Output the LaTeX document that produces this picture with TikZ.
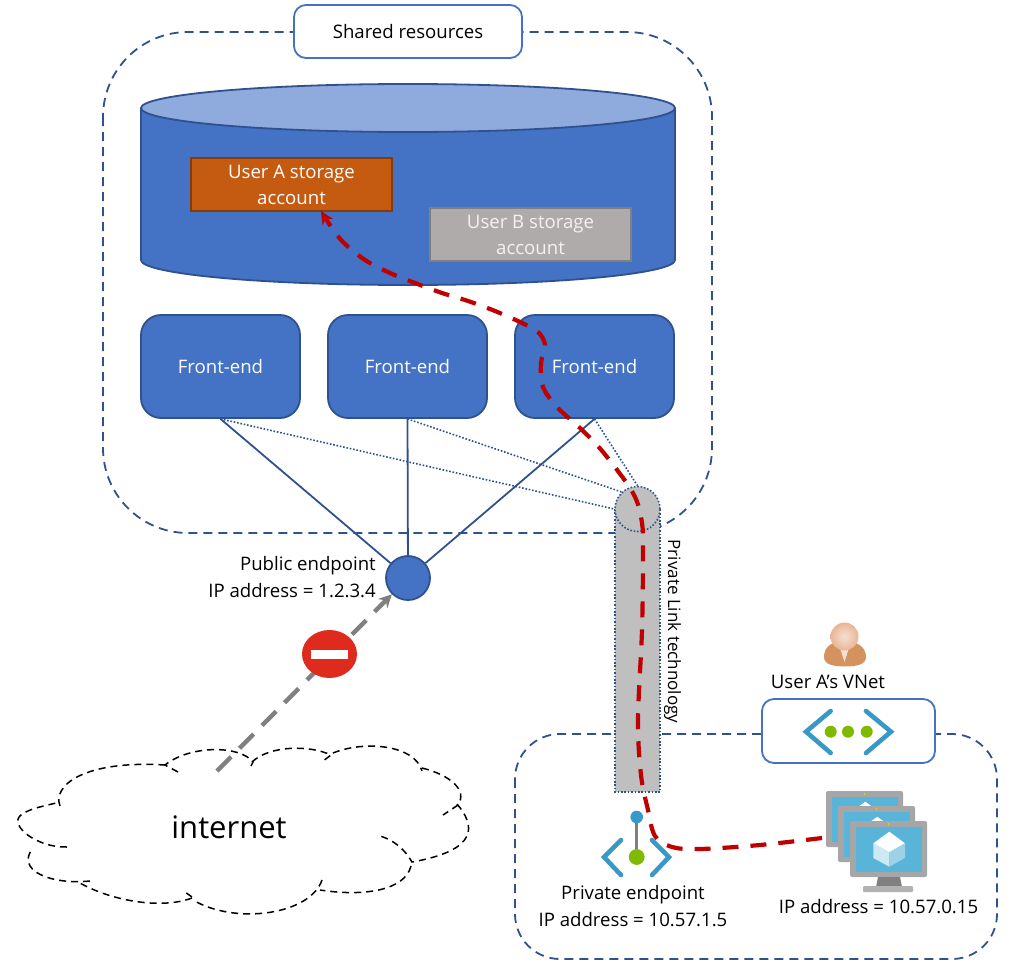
\documentclass[tikz,border=0pt]{standalone}
\usepackage{fontspec}
\setmainfont{Open Sans}
\usetikzlibrary{arrows.meta,shapes.geometric}
\definecolor{fillblue}{HTML}{4472C4}
\definecolor{edgeblue}{HTML}{2F528F}
\definecolor{liteblue}{HTML}{8FAADC}
\definecolor{orangebox}{HTML}{C55A11}
\definecolor{orangeedge}{HTML}{843C0C}
\definecolor{greybox}{HTML}{AFABAB}
\definecolor{tubegrey}{HTML}{BFBFBF}
\definecolor{redpath}{HTML}{C00000}
\definecolor{iconblue}{HTML}{3999C6}
\definecolor{icongreen}{HTML}{7FBA00}
\definecolor{screenblue}{HTML}{59B4D9}
\definecolor{noentry}{HTML}{DF2A1E}
\definecolor{userbody}{HTML}{D4925F}
\definecolor{userhead}{HTML}{E8B596}
\definecolor{userlite}{HTML}{F6E0D2}
\tikzset{
 x=1pt,y=-1pt,
 lbl/.style={font=\fontsize{18.6}{22}\selectfont,inner sep=0pt,align=center,text=black},
 zone/.style={draw=edgeblue,line width=1.8pt,dash pattern=on 9pt off 6pt},
 fe/.style={draw=edgeblue,line width=1.8pt,fill=fillblue,rounded corners=20pt,minimum width=159pt,minimum height=103pt,inner sep=0pt,text=white,font=\fontsize{18.6}{22}\selectfont},
 tag/.style={draw=fillblue,line width=1.8pt,fill=white,rounded corners=12pt,inner sep=0pt,font=\fontsize{18.6}{22}\selectfont},
 store/.style={line width=1.8pt,minimum width=201pt,minimum height=53pt,inner sep=0pt,align=center,font=\fontsize{18.6}{26}\selectfont},
 solidlink/.style={draw=edgeblue,line width=1.8pt},
 dotlink/.style={draw=edgeblue,line width=1.6pt,dash pattern=on 1.6pt off 1.8pt},
 cloudline/.style={draw=black,line width=1.5pt,dash pattern=on 7pt off 5pt,line cap=butt},
 chev/.style={draw=iconblue,line width=4.6pt,line join=miter,line cap=round},
}
\begin{document}
\begin{tikzpicture}
\useasboundingbox (0,0) rectangle (1017,972);
% zones
\draw[zone,rounded corners=85pt] (103,32) rectangle (712,533);
\draw[zone,rounded corners=45pt] (515,734) rectangle (997,959);
\node[tag,minimum width=228pt,minimum height=53pt] (shared) at (408,31.5) {Shared resources};
% cylinder
\draw[draw=edgeblue,line width=1.8pt,fill=fillblue] (141,108) -- (141,260) arc[start angle=180,end angle=0,x radius=267,y radius=25] -- (675,108) -- cycle;
\draw[draw=edgeblue,line width=1.8pt,fill=liteblue] (408,108) ellipse[x radius=267,y radius=24];
\node[store,draw=orangeedge,fill=orangebox,text=white] (usera) at (291.5,184.5) {User A storage\\account};
\node[store,draw=black!50,fill=greybox,text=white!95!black] (userb) at (530.5,234.5) {User B storage\\account};
% front ends
\node[fe] (fe1) at (220.5,366.5) {Front-end};
\node[fe] (fe2) at (407.5,366.5) {Front-end};
\node[fe] (fe3) at (594.5,366.5) {Front-end};
% public endpoint
\node[circle,draw=edgeblue,line width=1.8pt,fill=fillblue,minimum size=44pt,inner sep=0pt] (pub) at (408,578) {};
\draw[solidlink] (fe1.south) -- (pub);
\draw[solidlink] (fe2.south) -- (pub);
\draw[solidlink] (fe3.south) -- (pub);
% tube
\fill[tubegrey] (615,509) rectangle (660,792);
\draw[dotlink] (615,509) -- (615,792) -- (660,792) -- (660,509);
\node[circle,draw=edgeblue,line width=1.6pt,dash pattern=on 1.6pt off 1.8pt,fill=tubegrey,minimum size=45pt,inner sep=0pt] (priv) at (637.5,509) {};
\draw[dotlink] (fe1.south) -- (priv.west);
\draw[dotlink] (fe2.south) -- (priv.133);
\draw[dotlink] (fe3.south) -- (priv.north);
\node[lbl,font=\fontsize{17}{20}\selectfont,rotate=-90] (plt) at (672.5,631.5) {Private Link technology};
% VNet tag and icon
\node[tag,minimum width=173pt,minimum height=64pt] (vnet) at (848.5,731) {};
\draw[chev] (830.7,711) -- (806,731.7) -- (830.7,753);
\draw[chev] (866,711) -- (891,731.7) -- (866,753);
\foreach \px in {830.7,848,866.7}{\fill[icongreen] (\px,731.7) circle[radius=6pt];}
\node[lbl] (vnetlbl) at (828,682) {User A’s VNet};
% user
\fill[userbody] (824,657) .. controls (824,648) and (830,643) .. (838,642) -- (851,642) .. controls (859,643) and (866,648) .. (866,657) .. controls (866,664) and (858,666.5) .. (845,666.5) .. controls (832,666.5) and (824,664) .. (824,657) -- cycle;
\fill[userlite] (840,648) -- (849,648) -- (844.5,662) -- cycle;
\shade[inner color=userlite,outer color=userhead] (844.5,636.5) circle[radius=14pt];
% private endpoint icon
\draw[chev] (621,840) -- (604,857) -- (621,875);
\draw[chev] (652,840) -- (669,857) -- (652,875);
\draw[draw=gray,line width=3.5pt] (636.7,817) -- (636.7,857);
\fill[iconblue] (636.7,817) circle[radius=6.3pt];
\fill[icongreen] (636.7,857) circle[radius=7.9pt];
% VM icons
\foreach \dx/\dy in {-24/-30,-12/-15,0/0}{
\begin{scope}[shift={(\dx,\dy)}]
\fill[gray!70,rounded corners=2pt] (850,821) rectangle (927,877);
\fill[screenblue] (856,827) rectangle (922,872);
\fill[yellow!80!green] (888.5,824) circle[radius=0.8pt];
\fill[white] (889.3,831.7) -- (905,843.3) -- (889.3,852.3) -- (873.3,843.3) -- cycle;
\fill[screenblue!30!white] (873.3,843.3) -- (889.3,852.3) -- (889.3,866.7) -- (873.3,858) -- cycle;
\fill[screenblue!60!white] (905,843.3) -- (889.3,852.3) -- (889.3,866.7) -- (905,858) -- cycle;
\end{scope}}
\fill[gray] (878,877) -- (900,877) -- (902,887) -- (876,887) -- cycle;
\fill[gray!60,rounded corners=1pt] (863,886) rectangle (913,892);
\coordinate (vmend) at (822,838);
% red route
\coordinate (uaend) at (321,211);
\draw[draw=redpath,line width=4.2pt,dash pattern=on 16pt off 12pt,-{Stealth[length=13pt,width=12pt]}]
 plot[smooth,tension=0.55] coordinates {(vmend) (760,845) (700,849) (672,847) (655,836) (648,810) (641,775) (638,720) (642,630) (643,557) (642,523) (633,493) (603,452) (580,428) (558,408) (543,387) (541,363) (545,345) (538,332) (520,322) (495,311) (468,301) (442,293) (415,283) (390,273) (365,260) (343,242) (330,225) (uaend)};
% internet cloud
\node[font=\fontsize{31}{36}\selectfont,inner sep=0pt] (net) at (229,827) {internet};
\coordinate (netedge) at (217,771);
\draw[draw=black!50,line width=4.4pt,dash pattern=on 20pt off 12pt,-{Stealth[length=13pt,width=13pt]}] (netedge) -- (pub);
\draw[cloudline] (60,806) .. controls (52,785) and (85,760) .. (165,765);
\draw[cloudline] (178,772) -- (165,765) .. controls (190,745) and (240,745) .. (253,762) -- (251,766);
\draw[cloudline] (252,762) .. controls (270,745) and (310,745) .. (331,755) -- (323,761);
\draw[cloudline] (333,753) .. controls (365,740) and (415,745) .. (422,771);
\draw[cloudline] (422,768) .. controls (450,775) and (468,790) .. (458,805) -- (443,815);
\draw[cloudline] (457,804) .. controls (475,825) and (480,850) .. (412,862) .. controls (405,850) and (395,840) .. (377,835);
\draw[cloudline] (411,866) .. controls (405,890) and (365,897) .. (320,890);
\draw[cloudline] (322,880) .. controls (310,915) and (235,925) .. (193,900);
\draw[cloudline] (192,897) -- (185,892);
\draw[cloudline] (192,898) .. controls (160,910) and (110,900) .. (80,883);
\draw[cloudline] (90,881) .. controls (50,885) and (15,870) .. (33,848);
\draw[cloudline] (67,847) .. controls (37,848) and (8,825) .. (21,815) .. controls (30,808) and (45,806) .. (60,802);
% no entry
\node[ellipse,fill=noentry,minimum width=55pt,minimum height=48pt,inner sep=0pt] (stop) at (329.5,654) {};
\fill[white] (311,650) rectangle (348,659);
% labels
\node[lbl,anchor=east] (publbl1) at (376,566) {Public endpoint};
\node[lbl,anchor=east] (publbl2) at (376,591) {IP address = 1.2.3.4};
\node[lbl] (prlbl1) at (633,895) {Private endpoint};
\node[lbl] (prlbl2) at (633,920) {IP address = 10.57.1.5};
\node[lbl] (vmlbl) at (878.5,907) {IP address = 10.57.0.15};
\end{tikzpicture}
\end{document}
